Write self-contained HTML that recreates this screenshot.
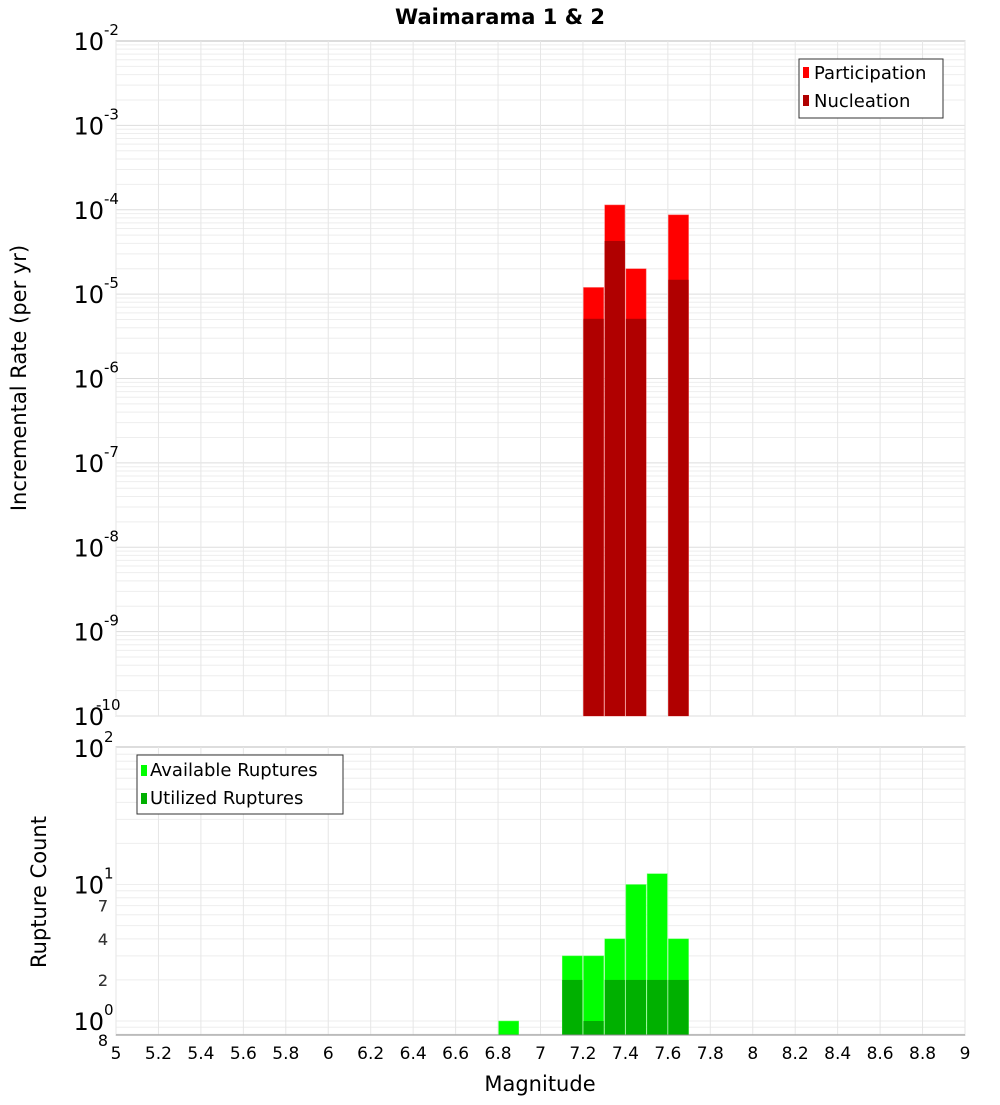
<!DOCTYPE html>
<html><head><meta charset="utf-8"><style>
body{margin:0;background:#fff;font-family:"Liberation Sans","DejaVu Sans",sans-serif}
svg text{font-family:"DejaVu Sans","Liberation Sans",sans-serif}
</style></head><body>
<svg id="c" width="1000" height="1100" xmlns="http://www.w3.org/2000/svg"></svg>
<script>
const mags=[7.25,7.35,7.45,7.65];
const participation=[1.2e-5,1.14e-4,2.0e-5,8.7e-5];
const nucleation=[5.1e-6,4.27e-5,5.1e-6,1.48e-5];
const countMags=[6.85,7.15,7.25,7.35,7.45,7.55,7.65];
const available=[1,3,3,4,10,12,4];
const utilized=[0,2,1,2,2,2,2];
const xTicks=[5,5.2,5.4,5.6,5.8,6,6.2,6.4,6.6,6.8,7,7.2,7.4,7.6,7.8,8,8.2,8.4,8.6,8.8,9];
const topExps=[-2,-3,-4,-5,-6,-7,-8,-9,-10];
const botMinor=[7,4,2,0.7,0.4,0.2];

const S=document.getElementById('c');const NS='http://www.w3.org/2000/svg';
function el(t,a,p){const e=document.createElementNS(NS,t);for(const k in a)e.setAttribute(k,a[k]);(p||S).appendChild(e);return e;}
const X0=116,X1=965;
const x=m=>X0+(m-5)/4*(X1-X0);
const T0=41,T1=716;
const yT=v=>T0+(-2-Math.log10(v))/8*(T1-T0);
const B0=747,B1=1035;
const yB=v=>1021-Math.log10(v)*136.5;

el('text',{x:500,y:24,'text-anchor':'middle','font-size':21,'font-weight':'bold',}).textContent='Waimarama 1 & 2';

// top grid
el('rect',{x:X0,y:T0,width:X1-X0,height:T1-T0,fill:'#fff',stroke:'#bbb',});
for(let e=-10;e<-2;e++)for(let k=1;k<10;k++){const yy=yT(k*Math.pow(10,e));
 const g=el('line',{x1:X0,x2:X1,y1:yy,y2:yy,stroke:k==1?'#ddd':'#eee','stroke-width':1});
 }
for(const t of xTicks){const g=el('line',{x1:x(t),x2:x(t),y1:T0,y2:T1,stroke:'#e6e6e6'});
 }
// bottom grid
el('rect',{x:X0,y:B0,width:X1-X0,height:B1-B0,fill:'#fff',stroke:'#bbb',});
for(let e=-1;e<2;e++)for(let k=1;k<10;k++){const yy=yB(k*Math.pow(10,e));if(yy<B0||yy>B1)continue;
 const g=el('line',{x1:X0,x2:X1,y1:yy,y2:yy,stroke:'#eee'});
 }
for(const t of xTicks){const g=el('line',{x1:x(t),x2:x(t),y1:B0,y2:B1,stroke:'#e6e6e6'});
 }

// top bars
mags.forEach((m,i)=>{
 let r=el('rect',{x:x(m-0.05)+0.5,y:yT(participation[i]),width:x(m+0.05)-x(m-0.05)-1,height:T1-yT(participation[i]),fill:'#ff0000',stroke:'#ff6666','stroke-width':0.5});
 
 r=el('rect',{x:x(m-0.05)+0.5,y:yT(nucleation[i]),width:x(m+0.05)-x(m-0.05)-1,height:T1-yT(nucleation[i]),fill:'#b00000'});
 
});
// bottom bars
countMags.forEach((m,i)=>{
 let r=el('rect',{x:x(m-0.05)+0.5,y:yB(available[i]),width:x(m+0.05)-x(m-0.05)-1,height:B1-yB(available[i]),fill:'#00ff00',stroke:'#66ff66','stroke-width':0.5});
 
 if(utilized[i]>0){r=el('rect',{x:x(m-0.05)+0.5,y:yB(utilized[i]),width:x(m+0.05)-x(m-0.05)-1,height:B1-yB(utilized[i]),fill:'#00b000'});
 }
});
el('line',{x1:X0,x2:X1,y1:B1,y2:B1,stroke:'#888',});

// top y labels
topExps.forEach(e=>{const yy=yT(Math.pow(10,e));
 const t=el('text',{x:104,y:yy+9,'text-anchor':'end','font-size':24});
 
 t.textContent='10';
 const s=el('text',{x:e==-10?96:104,y:yy-6,'font-size':15});
 s.textContent=String(e);
});
// bottom y labels
[2,1,0].forEach(e=>{const yy=yB(Math.pow(10,e));
 const t=el('text',{x:104,y:yy+9,'text-anchor':'end','font-size':24});
 t.textContent='10';
 const s=el('text',{x:104,y:yy-6,'font-size':15});
 s.textContent=String(e);
});
botMinor.forEach(v=>{const yy=yB(v>=1?v:v*10);
 const t=el('text',{x:108,y:yy+6,'text-anchor':'end','font-size':16,fill:'#333'});
 t.textContent=String(v>=1?v:Math.round(v*10));
});
{const t=el('text',{x:108,y:yB(0.8)+12,'text-anchor':'end','font-size':16});t.textContent='8';}

// x labels
xTicks.forEach(t=>{const e=el('text',{x:x(t),y:1059,'text-anchor':'middle','font-size':17});
 e.textContent=String(t);});
el('text',{x:540,y:1091,'text-anchor':'middle','font-size':21,}).textContent='Magnitude';
el('text',{x:0,y:0,transform:'translate(26,378) rotate(-90)','text-anchor':'middle','font-size':21,}).textContent='Incremental Rate (per yr)';
el('text',{x:0,y:0,transform:'translate(46,892) rotate(-90)','text-anchor':'middle','font-size':21,}).textContent='Rupture Count';

// legends
const lg1=el('g',{});
el('rect',{x:799,y:59,width:144,height:59,fill:'#fff',stroke:'#333'},lg1);
el('rect',{x:803,y:67,width:6,height:11,fill:'#ff0000'},lg1);
el('text',{x:814,y:79,'font-size':18},lg1).textContent='Participation';
el('rect',{x:803,y:95,width:6,height:11,fill:'#b00000'},lg1);
el('text',{x:814,y:107,'font-size':18},lg1).textContent='Nucleation';
const lg2=el('g',{});
el('rect',{x:137,y:755,width:206,height:59,fill:'#fff',stroke:'#333'},lg2);
el('rect',{x:141,y:765,width:6,height:11,fill:'#00ff00'},lg2);
el('text',{x:150,y:776,'font-size':18},lg2).textContent='Available Ruptures';
el('rect',{x:141,y:793,width:6,height:11,fill:'#00b000'},lg2);
el('text',{x:150,y:804,'font-size':18},lg2).textContent='Utilized Ruptures';
</script>
</body></html>
